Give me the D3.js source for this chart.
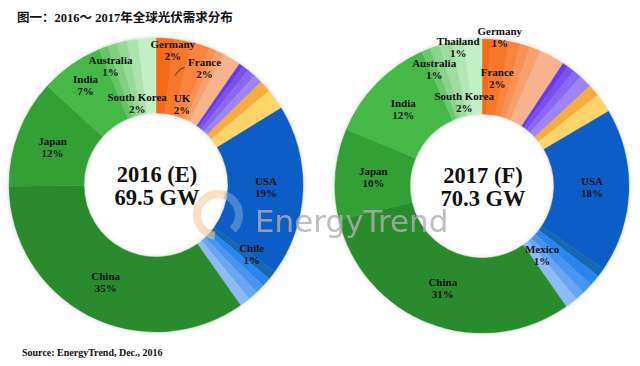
<!DOCTYPE html>
<html><head><meta charset="utf-8">
<script src="https://cdn.jsdelivr.net/npm/d3@7"></script>
<style>
html,body{margin:0;padding:0;background:#fff;}
svg{display:block;}
</style></head>
<body>
<svg id="chart" width="640" height="366"></svg>
<script>
// ---------------- DATA ----------------
const titleText = "图一：2016～ 2017年全球光伏需求分布";
const sourceText = "Source: EnergyTrend, Dec., 2016";

const categories2016 = ["Germany","France","UK","Europe other 1","Europe other 2","Europe other 3",
  "MEA 1","MEA 2","MEA 3","MEA 4","Other 1","Other 2",
  "USA","Chile","Americas other 1","Americas other 2","Americas other 3","Americas other 4",
  "China","Japan","India","Australia","Asia other 1","Asia other 2","Asia other 3","South Korea"];
const values2016 = [2,2,2,0.8,0.9,2.0, 0.5,0.7,0.9,1.0, 1.3,2.3, 19,1,1.0,1.0,1.1,1.2, 35,12,7,1,1.1,1.1,1.2,2];
const total2016 = "69.5 GW";
const year2016 = "2016 (E)";

const categories2017 = ["Germany","France","Europe other 1","Europe other 2","Europe other 3","Europe other 4",
  "MEA 1","MEA 2","MEA 3","MEA 4","Other 1","Other 2",
  "USA","Americas other 0","Americas other 1","Americas other 2","Mexico","Americas other 4",
  "China","Japan","India","Australia","Thailand","Asia other 1","Asia other 2","South Korea"];
const values2017 = [1,2,1.2,1.1,1.2,2.8, 0.6,0.8,1.0,1.4, 1.3,2.1, 18,1.0,1.2,1.2,1,1.4, 31,10,12,1,1,1.4,1.3,2];
const total2017 = "70.3 GW";
const year2017 = "2017 (F)";

// ---------------- STYLES ----------------
const palette2016 = ["#f76b18","#f8782b","#f8843e","#f89155","#f8a06c","#f7b28e",
  "#6b39ee","#7b50f0","#8b67f2","#9f84f5","#f9ab3e","#fcd46a",
  "#0b5dc6","#1568b3","#2b85ee","#4894f0","#67a6f3","#8dbbf5",
  "#2c8a2f","#33a036","#44b846","#63c566","#7fd181","#96da97","#ace3ad","#c2efc4"];
const palette2017 = ["#f76b18","#f8782b","#f8843e","#f89155","#f8a06c","#f7b28e",
  "#6b39ee","#7b50f0","#8b67f2","#9f84f5","#f9ab3e","#fcd46a",
  "#0b5dc6","#1568b3","#2b85ee","#4894f0","#67a6f3","#8dbbf5",
  "#2c8a2f","#33a036","#44b846","#6ac86c","#88d489","#9fdd9f","#b2e6b3","#c2efc4"];
// label placement: [angle offset from slice mid (deg), radius]
const labelPlace2016 = {Germany:[3.5,136], France:[12,126], UK:[0,85], USA:[-1,110], Chile:[-2,118],
  China:[0,110], Japan:[-1,110], India:[0,122], Australia:[0,127], "South Korea":[-9.4,84]};
const labelPlace2017 = {Germany:[5,150], France:[0.8,109], USA:[-1,110], Mexico:[1,92], China:[0,110],
  Japan:[0,109], India:[0,110], Australia:[0,126], Thailand:[9,141], "South Korea":[-8.5,85]};
const leaderLabels2016 = ["France"];

const svg = d3.select("#chart");
const defs = svg.append("defs");
const f = defs.append("filter").attr("id","glow").attr("x","-20%").attr("y","-20%").attr("width","140%").attr("height","140%");
f.append("feDropShadow").attr("dx",0).attr("dy",0).attr("stdDeviation",2).attr("flood-color","#777").attr("flood-opacity",0.35);

const R_OUT = 147, R_IN = 72;
const serif = "'Liberation Serif','DejaVu Serif',serif";

function donut(cx, cy, cats, vals, palette, place, leaders, yearLabel, totalLabel){
  const data = cats.map((c,i)=>({name:c, v:vals[i], color:palette[i]}));
  const pie = d3.pie().sort(null).value(d=>d.v).startAngle(0).endAngle(2*Math.PI);
  const arcs = pie(data);
  const arc = d3.arc().innerRadius(R_IN).outerRadius(R_OUT);
  const g = svg.append("g").attr("transform",`translate(${cx},${cy})`);
  const sg = g.append("g").attr("filter","url(#glow)");
  sg.selectAll("path").data(arcs).join("path")
    .attr("d",arc).attr("fill",d=>d.data.color)
    .attr("stroke",d=>d.data.color).attr("stroke-width",0.4);
  const lg = g.append("g");
  const polar = (ang, r) => [Math.sin(ang)*r, -Math.cos(ang)*r];
  arcs.forEach(a=>{
    const p = place[a.data.name];
    if(!p) return;
    const mid = (a.startAngle+a.endAngle)/2;
    const ang = mid + p[0]*Math.PI/180;
    const [x,y] = polar(ang, p[1]);
    const pct = Math.round(a.data.v) + "%";
    const t = lg.append("text").attr("text-anchor","middle")
      .attr("font-family",serif).attr("font-weight","bold").attr("font-size",11).attr("fill","#111");
    t.append("tspan").attr("x",x).attr("y",y-2.5).text(a.data.name);
    t.append("tspan").attr("x",x).attr("y",y+9.5).text(pct);
    if(leaders.includes(a.data.name)){
      const [sx,sy] = polar(mid-1*Math.PI/180, 111);
      lg.append("path").attr("d",`M${sx},${sy}L${x-24},${y}L${x-20},${y-1}`)
        .attr("fill","none").attr("stroke","#333").attr("stroke-width",0.9);
    }
  });
  [[yearLabel,-3],[totalLabel,20]].forEach(([txt,yy])=>{
    g.append("text").attr("text-anchor","middle").attr("font-family",serif)
      .attr("font-weight","bold").attr("font-size",22.5).attr("fill","#111")
      .attr("x",1).attr("y",yy).text(txt);
  });
}

donut(156,185,categories2016,values2016,palette2016,labelPlace2016,leaderLabels2016,year2016,total2016);
donut(482,186,categories2017,values2017,palette2017,labelPlace2017,[],year2017,total2017);

// watermark
const wm = svg.append("g").attr("opacity",0.55);
const ring = d3.arc().innerRadius(17).outerRadius(25);
wm.append("path").attr("transform","translate(218,215)")
  .attr("d",ring({startAngle:-Math.PI*0.95,endAngle:Math.PI*0.1})).attr("fill","#f6c58e");
wm.append("path").attr("transform","translate(218,215)")
  .attr("d",ring({startAngle:Math.PI*0.1,endAngle:Math.PI*0.75})).attr("fill","#7fa6d6");
svg.append("text").attr("x",255).attr("y",232).attr("font-family","'DejaVu Sans',sans-serif")
  .attr("font-size",31).attr("fill","#b0b0b0").attr("opacity",0.8).text("EnergyTrend");

// title & source
svg.append("text").attr("x",17).attr("y",22).attr("font-family","'Liberation Serif','Noto Sans CJK SC',serif")
  .attr("font-weight","bold").attr("font-size",12.5).attr("fill","#111").text(titleText);
svg.append("text").attr("x",22).attr("y",356).attr("font-family",serif)
  .attr("font-weight","bold").attr("font-size",10).attr("fill","#111").text(sourceText);
</script>
</body></html>
